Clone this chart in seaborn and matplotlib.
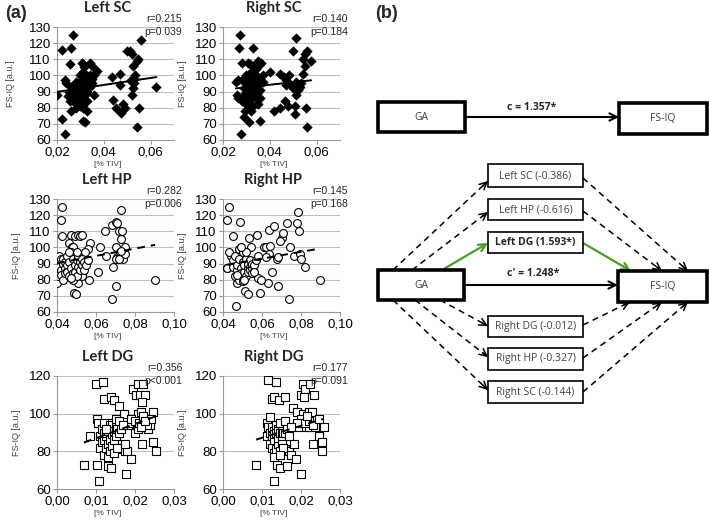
import numpy as np
import pandas as pd
import matplotlib
matplotlib.use('Agg')
import matplotlib.pyplot as plt
import seaborn as sns
from matplotlib.patches import Rectangle
from matplotlib.ticker import FuncFormatter

# ─── Data: panel (a) scatter plots ───────────────────────────────────────────
left_sc_x = [0.020, 0.022, 0.022, 0.0235, 0.0235, 0.024, 0.0255, 0.026, 0.027, 0.026,
             0.025, 0.0245, 0.026, 0.0255, 0.027, 0.027, 0.028, 0.028, 0.029, 0.029,
             0.029, 0.029, 0.028, 0.030, 0.030, 0.030, 0.030, 0.030, 0.030, 0.031,
             0.031, 0.031, 0.031, 0.031, 0.031, 0.032, 0.032, 0.032, 0.032, 0.033,
             0.033, 0.033, 0.033, 0.033, 0.034, 0.034, 0.034, 0.035, 0.035, 0.036,
             0.036, 0.037, 0.0305, 0.031, 0.0315, 0.034, 0.035, 0.031, 0.032, 0.0305,
             0.027, 0.026, 0.028, 0.032,
             0.0435, 0.044, 0.045, 0.047, 0.047, 0.0475, 0.048, 0.049, 0.050, 0.051,
             0.052, 0.0525, 0.0515, 0.052, 0.053, 0.0525, 0.052, 0.053, 0.0535, 0.0545,
             0.054, 0.054, 0.055, 0.0557, 0.0625]
left_sc_y = [88, 116, 73, 64, 97, 95, 107, 117, 125, 78,
             90, 87, 86, 84, 84, 88, 88, 92, 90, 94,
             86, 82, 80, 92, 96, 100, 88, 84, 81, 94,
             98, 102, 90, 86, 80, 96, 101, 92, 88, 95,
             98, 90, 84, 78, 93, 100, 96, 95, 98, 100,
             88, 103, 108, 107, 105, 108, 106, 72, 71, 81,
             92, 93, 96, 84,
             99, 85, 80, 101, 94, 77, 82, 80, 115, 115,
             113, 106, 97, 96, 95, 92, 88, 98, 100, 110,
             109, 68, 80, 122, 93]

right_sc_x = [0.0272, 0.0268, 0.0329, 0.028, 0.0308, 0.0315, 0.035, 0.0357, 0.0364, 0.0255,
              0.0265, 0.028, 0.0258, 0.0265, 0.028, 0.029, 0.0294, 0.029, 0.0312, 0.0277,
              0.029, 0.030, 0.030, 0.030, 0.031, 0.031, 0.031, 0.031, 0.032, 0.032,
              0.032, 0.032, 0.032, 0.033, 0.033, 0.033, 0.033, 0.034, 0.034, 0.034,
              0.034, 0.035, 0.035, 0.035, 0.035, 0.036, 0.036, 0.036, 0.037, 0.037,
              0.031, 0.030, 0.034, 0.033, 0.029, 0.036, 0.032,
              0.040, 0.042, 0.0443, 0.0443, 0.0464, 0.0478, 0.047, 0.049, 0.050, 0.0513,
              0.052, 0.0528, 0.050, 0.051, 0.0513, 0.0506, 0.0506, 0.0542, 0.055, 0.056,
              0.055, 0.0542, 0.0577, 0.0556, 0.056, 0.048, 0.047, 0.0535, 0.046]
right_sc_y = [125, 117, 117, 108, 108, 107, 109, 107, 108, 96,
              97, 97, 88, 86, 84, 85, 78, 74, 71, 64,
              92, 90, 95, 100, 93, 97, 88, 84, 91, 95,
              99, 102, 86, 93, 97, 89, 81, 92, 96, 100,
              86, 94, 90, 98, 82, 95, 91, 72, 96, 100,
              80, 82, 104, 106, 88, 86, 78,
              102, 78, 101, 80, 84, 81, 97, 94, 92, 96,
              91, 93, 115, 123, 88, 81, 76, 110, 113, 115,
              106, 101, 109, 80, 68, 100, 94, 95, 99]

left_hp_x = [0.0424, 0.0419, 0.0428, 0.040, 0.0407, 0.0412, 0.042, 0.0472, 0.049, 0.051,
             0.052, 0.0528, 0.0459, 0.0476, 0.0484, 0.0488, 0.0498, 0.051, 0.0528, 0.0562,
             0.057, 0.0557, 0.0545, 0.0622, 0.0609, 0.0648, 0.0653, 0.068, 0.070, 0.0709,
             0.0717, 0.0729, 0.073, 0.0735, 0.0686, 0.070, 0.0684, 0.0705, 0.071, 0.0722,
             0.074, 0.0747, 0.075, 0.070, 0.0903,
             0.041, 0.042, 0.042, 0.043, 0.043, 0.043, 0.044, 0.044, 0.044, 0.045,
             0.045, 0.045, 0.046, 0.046, 0.047, 0.047, 0.048, 0.048, 0.048, 0.049,
             0.049, 0.050, 0.050, 0.051, 0.051, 0.052, 0.052, 0.053, 0.053, 0.054,
             0.054, 0.055, 0.056, 0.050, 0.046, 0.047, 0.072, 0.073]
left_hp_y = [125, 117, 107, 78, 82, 95, 93, 108, 107, 108,
             107, 108, 103, 100, 100, 72, 71, 78, 82, 80,
             103, 99, 97, 100, 85, 110, 95, 114, 116, 115,
             110, 123, 105, 110, 88, 76, 68, 100, 94, 97,
             93, 96, 100, 93, 80,
             88, 86, 83, 90, 93, 80, 87, 91, 84, 89,
             85, 95, 82, 91, 87, 97, 84, 93, 80, 89,
             85, 92, 82, 88, 95, 91, 86, 89, 93, 91,
             86, 89, 92, 97, 97, 81, 93, 98]

right_hp_x = [0.043, 0.0422, 0.0485, 0.0453, 0.0422, 0.0419, 0.044, 0.043, 0.0473, 0.0468,
              0.0512, 0.0529, 0.059, 0.0532, 0.0575, 0.0546, 0.0608, 0.062, 0.064, 0.0634,
              0.0664, 0.070, 0.071, 0.0693, 0.073, 0.078, 0.0786, 0.079, 0.0744, 0.0766,
              0.0795, 0.080, 0.082, 0.0897, 0.0736, 0.068, 0.065, 0.063, 0.058, 0.0597,
              0.0676, 0.068, 0.0634, 0.062,
              0.045, 0.045, 0.046, 0.046, 0.047, 0.047, 0.048, 0.048, 0.048, 0.049,
              0.049, 0.050, 0.050, 0.050, 0.051, 0.051, 0.052, 0.052, 0.053, 0.053,
              0.053, 0.054, 0.054, 0.054, 0.055, 0.055, 0.055, 0.056, 0.056, 0.057,
              0.058, 0.052, 0.049, 0.051, 0.047]
right_hp_y = [125, 117, 116, 107, 87, 87, 95, 97, 78, 64,
              73, 71, 72, 106, 108, 100, 100, 100, 101, 111,
              113, 106, 109, 104, 115, 115, 122, 110, 100, 95,
              96, 93, 88, 80, 68, 76, 85, 78, 81, 80,
              93, 94, 96, 94,
              88, 92, 82, 95, 86, 89, 80, 93, 99, 87,
              84, 91, 97, 79, 85, 89, 93, 82, 87, 90,
              85, 88, 86, 92, 87, 84, 90, 89, 85, 92,
              95, 97, 100, 80, 83]

left_dg_x = [0.0069, 0.0103, 0.0108, 0.0099, 0.0117, 0.0103, 0.0105, 0.0084, 0.0131, 0.0138,
             0.0121, 0.0138, 0.0145, 0.016, 0.0171, 0.0164, 0.0175, 0.018, 0.0176, 0.019,
             0.0175, 0.0195, 0.0208, 0.0221, 0.0203, 0.0212, 0.0225, 0.0217, 0.0182, 0.019,
             0.0199, 0.0206, 0.0207, 0.0208, 0.0215, 0.0221, 0.0232, 0.0234, 0.0238, 0.0247,
             0.0247, 0.0253, 0.0218,
             0.019, 0.020, 0.021, 0.022, 0.023, 0.0215, 0.024, 0.0225,
             0.011, 0.011, 0.0115, 0.0115, 0.012, 0.012, 0.012, 0.012, 0.0125, 0.0125,
             0.0125, 0.013, 0.013, 0.013, 0.013, 0.0135, 0.0135, 0.0135, 0.0135, 0.014,
             0.014, 0.014, 0.014, 0.0145, 0.0145, 0.0145, 0.015, 0.015, 0.015, 0.0155,
             0.0155, 0.016, 0.016, 0.0165, 0.017, 0.0125]
left_dg_y = [73, 73, 64, 116, 117, 97, 95, 88, 72, 71,
             108, 109, 107, 104, 100, 81, 80, 80, 68, 76,
             84, 113, 116, 116, 110, 110, 110, 106, 94, 95,
             90, 94, 92, 100, 101, 98, 93, 92, 94, 101,
             85, 80, 84,
             97, 96, 95, 99, 94, 93, 97, 96,
             88, 82, 85, 92, 78, 86, 90, 95, 82, 88,
             90, 77, 84, 91, 92, 80, 86, 93, 94, 83,
             89, 95, 94, 79, 91, 86, 93, 97, 88, 82,
             92, 90, 96, 92, 94, 92]

right_dg_x = [0.0085, 0.0116, 0.0136, 0.0131, 0.0125, 0.0131, 0.0144, 0.0159, 0.0112, 0.0116,
              0.012, 0.0114, 0.0139, 0.0146, 0.0165, 0.0159, 0.017, 0.0174, 0.0182, 0.0187,
              0.0199, 0.0179, 0.0191, 0.0199, 0.0206, 0.021, 0.0208, 0.0223, 0.0233, 0.0204,
              0.0215, 0.0221, 0.0227, 0.0213, 0.0221, 0.0236, 0.0247, 0.0253, 0.0259, 0.0232,
              0.0253, 0.0193,
              0.020, 0.021, 0.022, 0.023, 0.0245, 0.0215, 0.019,
              0.012, 0.012, 0.0125, 0.0125, 0.0125, 0.013, 0.013, 0.013, 0.013, 0.0135,
              0.0135, 0.0135, 0.0135, 0.014, 0.014, 0.014, 0.014, 0.0145, 0.0145, 0.0145,
              0.015, 0.015, 0.015, 0.0155, 0.0155, 0.016, 0.016, 0.0165, 0.017, 0.0175,
              0.013, 0.0145]
right_dg_y = [73, 118, 117, 64, 108, 109, 107, 109, 95, 93,
              98, 88, 73, 71, 72, 81, 80, 78, 84, 76,
              68, 103, 101, 110, 116, 113, 109, 116, 110, 100,
              97, 101, 101, 93, 93, 93, 88, 85, 93, 84,
              80, 93,
              97, 95, 96, 94, 97, 99, 95,
              84, 90, 82, 88, 93, 79, 86, 91, 89, 81,
              89, 94, 90, 84, 87, 92, 91, 80, 90, 95,
              85, 91, 88, 90, 82, 90, 96, 92, 88, 93,
              77, 78]

panel_titles = ['Left SC', 'Right SC', 'Left HP', 'Right HP', 'Left DG', 'Right DG']
r_values = ['0.215', '0.140', '0.282', '0.145', '0.356', '0.177']
p_values = ['p=0.039', 'p=0.184', 'p=0.006', 'p=0.168', 'p<0.001', 'p=0.091']

# ─── Data: panel (b) mediation diagram ───────────────────────────────────────
mediator_labels = ['Left SC (-0.386)', 'Left HP (-0.616)', 'Left DG (1.593*)',
                   'Right DG (-0.012)', 'Right HP (-0.327)', 'Right SC (-0.144)']
mediator_significant = [False, False, True, False, False, False]
total_effect_label = 'c = 1.357*'
direct_effect_label = "c' = 1.248*"

GREEN = '#4e9a2a'
GRID = '#bfbfbf'
TITLE_FONT = 'Lato'
DIAGRAM_FONT = 'Open Sans'

sns.set_theme(style='white')
plt.rcParams['font.family'] = ['Liberation Sans', 'DejaVu Sans']

fig = plt.figure(figsize=(7.09, 5.22), dpi=100)

col_left = [57 / 709, 223 / 709]
col_w = 117 / 709
row_bottom = [1 - 140 / 522, 1 - 312 / 522, 1 - 489 / 522]
row_h = 113 / 522


def comma_fmt(decimals):
    return FuncFormatter(lambda v, pos: f'{v:.{decimals}f}'.replace('.', ','))


def draw_panel(ax, x, y, marker, filled, dashed, xlim, xticks, yticks,
               title, r_txt, p_txt, ylab_x):
    df = pd.DataFrame({'x': x, 'y': y})
    if filled:
        sns.scatterplot(data=df, x='x', y='y', marker=marker, s=24, color='black',
                        edgecolor='black', linewidth=0.3, ax=ax, zorder=3)
    else:
        sns.scatterplot(data=df, x='x', y='y', marker=marker, s=32, facecolor='white',
                        edgecolor='black', linewidth=0.8, ax=ax, zorder=3)
    sns.regplot(data=df, x='x', y='y', scatter=False, ci=None, ax=ax,
                line_kws=dict(color='black', lw=1.4,
                              ls=(0, (4, 3)) if dashed else '-', zorder=4))

    ax.set_xlim(*xlim)
    ax.set_ylim(yticks[0], yticks[-1])
    ax.set_xticks(xticks)
    ax.set_yticks(yticks)
    ax.xaxis.set_major_formatter(comma_fmt(2))
    ax.yaxis.set_major_formatter(FuncFormatter(lambda v, pos: f'{v:.0f}'))
    for yt in yticks[1:]:
        ax.axhline(yt, color=GRID, lw=0.8, zorder=1)
    for side in ['top', 'right']:
        ax.spines[side].set_visible(False)
    for side in ['left', 'bottom']:
        ax.spines[side].set_color('#999999')
        ax.spines[side].set_linewidth(0.8)
    ax.tick_params(axis='both', direction='out', length=3, width=0.8,
                   color='#999999', labelsize=9.5, labelcolor='black', pad=1.5)
    ax.tick_params(axis='both', which='both', bottom=True, left=True)

    ax.set_xlabel('[% TIV]', fontsize=6, color='#404040')
    ax.set_ylabel('FS-IQ [a.u.]', fontsize=6.5, color='#404040')
    ax.xaxis.set_label_coords(0.43, -0.185)
    ax.yaxis.set_label_coords(ylab_x, 0.5)

    ax.text(0.43, 1.17, title, transform=ax.transAxes, ha='center', va='center',
            fontsize=10.5, fontweight='bold', family=TITLE_FONT)
    ax.text(1.07, 1.07, f'r={r_txt}', transform=ax.transAxes, ha='right',
            va='center', fontsize=7.5, color='#262626')
    ax.text(1.07, 0.96, p_txt, transform=ax.transAxes, ha='right',
            va='center', fontsize=7.5, color='#262626')


panels = [
    (left_sc_x, left_sc_y, 'D', True, False),
    (right_sc_x, right_sc_y, 'D', True, False),
    (left_hp_x, left_hp_y, 'o', False, True),
    (right_hp_x, right_hp_y, 'o', False, True),
    (left_dg_x, left_dg_y, 's', False, True),
    (right_dg_x, right_dg_y, 's', False, True),
]
xlims = [(0.02, 0.07), (0.04, 0.10), (0.0, 0.03)]
xtick_sets = [[0.02, 0.04, 0.06], [0.04, 0.06, 0.08, 0.10], [0.0, 0.01, 0.02, 0.03]]
ytick_sets = [list(range(60, 131, 10)), list(range(60, 131, 10)), [60, 80, 100, 120]]

for i, (x, y, marker, filled, dashed) in enumerate(panels):
    row, col = divmod(i, 2)
    ax = fig.add_axes([col_left[col], row_bottom[row], col_w, row_h])
    ax.set_facecolor('none')
    ylab_x = -0.36 if i == 0 else -0.31
    draw_panel(ax, x, y, marker, filled, dashed, xlims[row], xtick_sets[row],
               ytick_sets[row], panel_titles[i], r_values[i], p_values[i], ylab_x)

fig.text(5 / 709, 1 - 14 / 522, '(a)', fontsize=13, fontweight='bold',
         va='center', ha='left')

# ─── Panel (b): mediation diagram, drawn in pixel coordinates ────────────────
axb = fig.add_axes([360 / 709, 0, 349 / 709, 1])
axb.set_xlim(360, 709)
axb.set_ylim(522, 0)
axb.axis('off')
axb.set_facecolor('none')

fig.text(375 / 709, 1 - 14 / 522, '(b)', fontsize=13, fontweight='bold',
         va='center', ha='left')

main_boxes = {
    'GA1': (378, 102, 465, 132, 'GA'),
    'FS1': (619, 103, 707, 134, 'FS-IQ'),
    'GA2': (378, 270, 464, 300, 'GA'),
    'FS2': (618, 271, 707, 302, 'FS-IQ'),
}
mediator_y = [(164, 187), (199, 220), (232, 253), (316, 337), (348, 370), (381, 403)]
med_x0, med_x1 = 488, 583


def box(x0, y0, x1, y1, text, lw, bold=False):
    axb.add_patch(Rectangle((x0, y0), x1 - x0, y1 - y0, facecolor='white',
                            edgecolor='black', lw=lw, zorder=3))
    axb.text((x0 + x1) / 2, (y0 + y1) / 2, text, ha='center', va='center',
             fontsize=7.5, color='#262626' if bold else '#404040',
             fontweight='bold' if bold else 'normal', family=DIAGRAM_FONT, zorder=4)


def arrow(p0, p1, color='black', dashed=False, lw=1.2):
    p0 = np.array(p0, float)
    p1 = np.array(p1, float)
    head = dict(arrowstyle='->', color=color, lw=lw, mutation_scale=13,
                shrinkA=0, shrinkB=0)
    if dashed:
        axb.plot([p0[0], p1[0]], [p0[1], p1[1]], color=color, lw=lw,
                 ls=(0, (4, 3)), zorder=2)
        d = (p1 - p0) / np.linalg.norm(p1 - p0)
        axb.annotate('', xy=p1, xytext=p1 - d * 7, arrowprops=head, zorder=2)
    else:
        axb.annotate('', xy=p1, xytext=p0, arrowprops=head, zorder=2)


for key, (x0, y0, x1, y1, txt) in main_boxes.items():
    box(x0, y0, x1, y1, txt, lw=2.6)

for (y0, y1), label, sig in zip(mediator_y, mediator_labels, mediator_significant):
    box(med_x0, y0, med_x1, y1, label, lw=1.2, bold=sig)

# total and direct effects
arrow((465, 117), (619, 117), lw=1.5)
axb.text(532, 108, total_effect_label, ha='center', va='center', fontsize=7.5,
         fontweight='bold', family=DIAGRAM_FONT, color='#262626')
arrow((464, 285), (618, 285), lw=1.5)
axb.text(533, 274, direct_effect_label, ha='center', va='center', fontsize=7.5,
         fontweight='bold', family=DIAGRAM_FONT, color='#262626')

# GA -> mediators and mediators -> FS-IQ
ga_starts = [(393, 270), (412, 270), (442, 270), (440, 300), (415, 300), (393, 300)]
med_in_y = [181, 212, 243, 326, 357, 390]
med_out_y = [178, 211, 243, 325, 358, 392]
fs_ends = [(688, 271), (662, 271), (631, 271), (630, 302), (662, 302), (688, 302)]

for start, yin, yout, end, sig in zip(ga_starts, med_in_y, med_out_y, fs_ends,
                                      mediator_significant):
    color = GREEN if sig else 'black'
    arrow(start, (med_x0, yin), color=color, dashed=not sig, lw=1.6 if sig else 1.1)
    arrow((med_x1, yout), end, color=color, dashed=not sig, lw=1.6 if sig else 1.1)

plt.savefig('out.png', dpi=100)
plt.close(fig)
